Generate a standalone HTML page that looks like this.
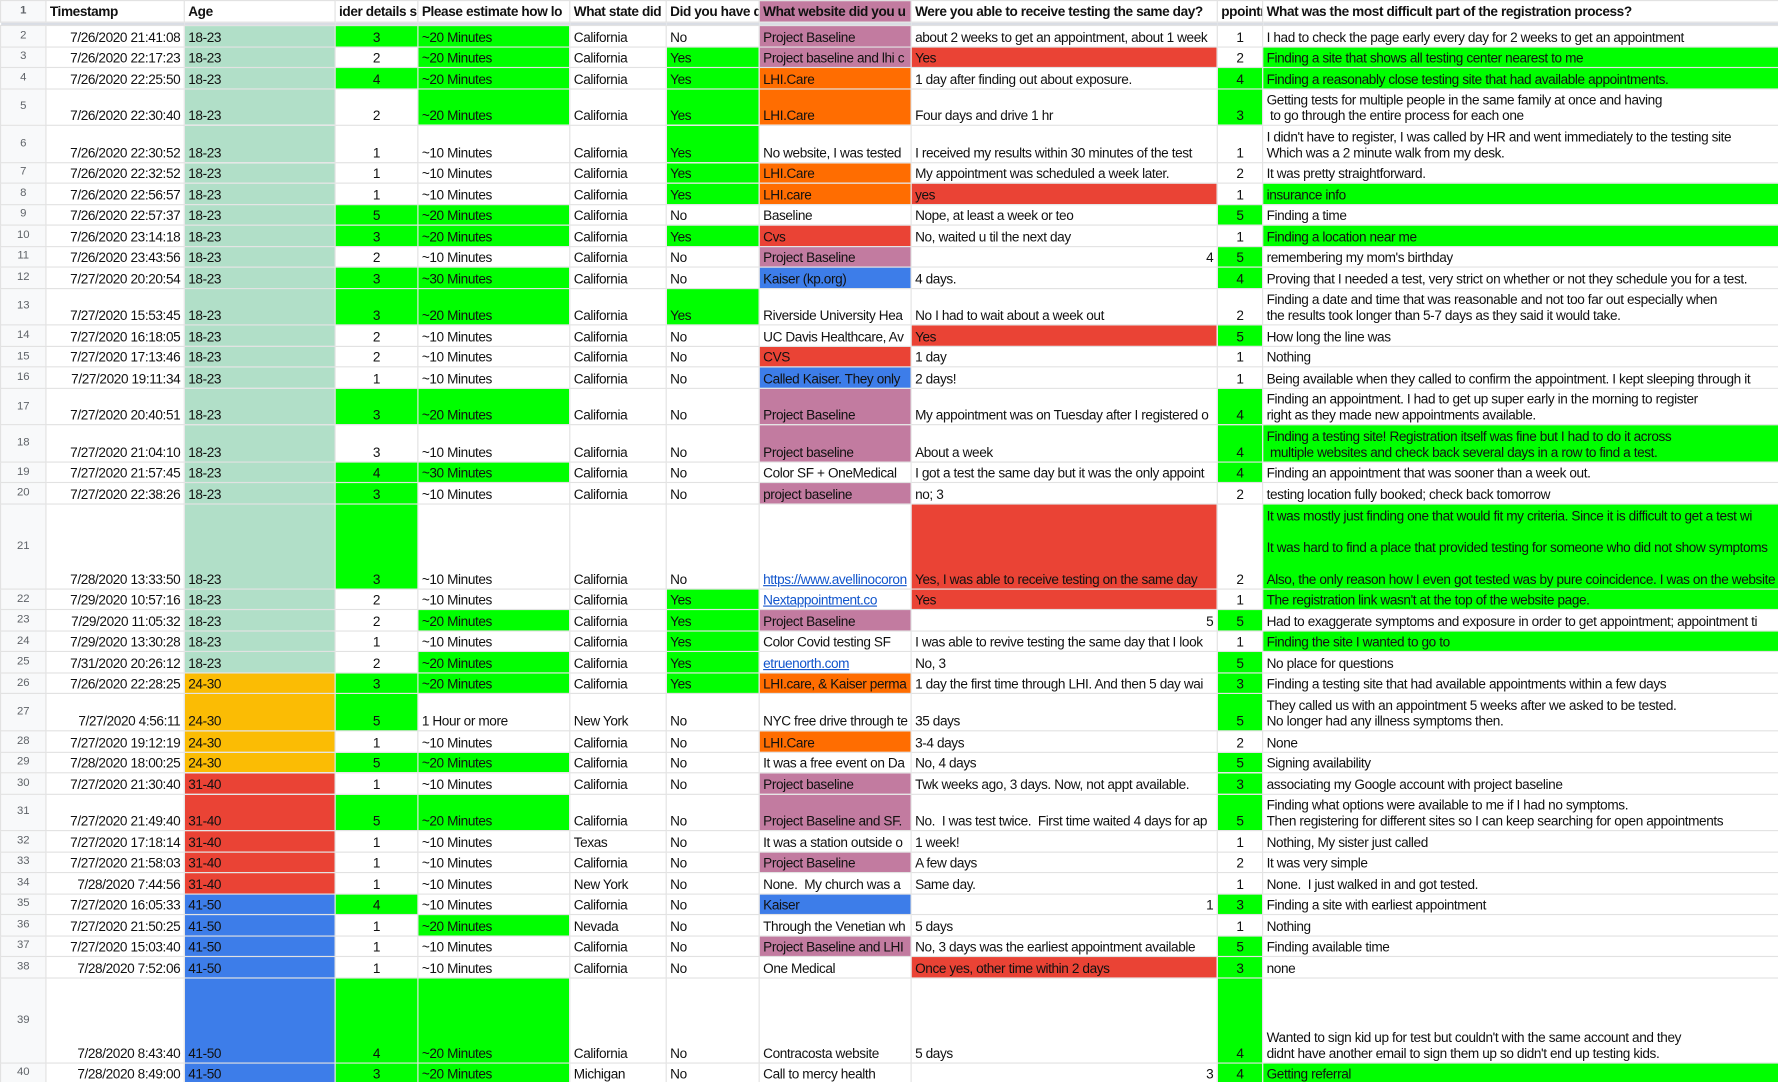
<!DOCTYPE html>
<html><head><meta charset="utf-8"><style>
html,body{margin:0;padding:0;background:#fff;width:1778px;height:1082px;overflow:hidden}
#w{transform:scale(1.13393);transform-origin:0 0;width:1568px}
table{border-collapse:collapse;table-layout:fixed;width:1568px;font-family:"Liberation Sans",Arial,sans-serif;font-size:12px;letter-spacing:-0.35px;color:#111}
td{border:1px solid #e2e2e2;padding:0 3px 1px 3px;vertical-align:bottom;white-space:pre;overflow:hidden;line-height:14px;height:18.5px;box-sizing:border-box}
tr.T td{height:32.6px}
tr.H td{height:75px}
tr.hd td{font-weight:bold;height:19px;vertical-align:middle;padding-bottom:0}
tr.sp td{height:3px;padding:0;background:#d9dde4;border:none}
td.n{background:#f8f9fa;color:#5f6368;font-size:10px;text-align:center;vertical-align:middle;letter-spacing:0;padding:0}
.ts{text-align:right}
.c{text-align:center}
.rt{text-align:right}
.g{background:#00ff00}.t{background:#b1dfc8}.p{background:#c27ba0}.o{background:#ff6d01}.r{background:#ea4335}.b{background:#3d7de9}.y{background:#fbbc04}
a{color:#1155cc;text-decoration:underline}
</style></head><body><div id="w">
<table>
<colgroup><col style="width:40px"><col style="width:122px"><col style="width:133px"><col style="width:73px"><col style="width:134px"><col style="width:85px"><col style="width:82px"><col style="width:134px"><col style="width:270px"><col style="width:40px"><col style="width:455px"></colgroup>
<tr class="hd"><td class="n">1</td><td>Timestamp</td><td>Age</td><td>ider details su</td><td>Please estimate how lo</td><td>What state did</td><td>Did you have d</td><td class="p">What website did you u</td><td>Were you able to receive testing the same day?</td><td>ppointm</td><td>What was the most difficult part of the registration process?</td></tr>
<tr class="sp"><td></td><td></td><td></td><td></td><td></td><td></td><td></td><td></td><td></td><td></td><td></td></tr>
<tr><td class="n">2</td><td class="ts">7/26/2020 21:41:08</td><td class="t">18-23</td><td class="c g">3</td><td class="g">~20 Minutes</td><td>California</td><td>No</td><td class="p">Project Baseline</td><td>about 2 weeks to get an appointment, about 1 week</td><td class="c">1</td><td>I had to check the page early every day for 2 weeks to get an appointment</td></tr>
<tr><td class="n">3</td><td class="ts">7/26/2020 22:17:23</td><td class="t">18-23</td><td class="c">2</td><td class="g">~20 Minutes</td><td>California</td><td class="g">Yes</td><td class="p">Project baseline and lhi c</td><td class="r">Yes</td><td class="c">2</td><td class="g">Finding a site that shows all testing center nearest to me</td></tr>
<tr><td class="n">4</td><td class="ts">7/26/2020 22:25:50</td><td class="t">18-23</td><td class="c g">4</td><td class="g">~20 Minutes</td><td>California</td><td class="g">Yes</td><td class="o">LHI.Care</td><td>1 day after finding out about exposure.</td><td class="c g">4</td><td class="g">Finding a reasonably close testing site that had available appointments.</td></tr>
<tr class="T"><td class="n">5</td><td class="ts">7/26/2020 22:30:40</td><td class="t">18-23</td><td class="c">2</td><td class="g">~20 Minutes</td><td>California</td><td class="g">Yes</td><td class="o">LHI.Care</td><td>Four days and drive 1 hr</td><td class="c g">3</td><td>Getting tests for multiple people in the same family at once and having
 to go through the entire process for each one</td></tr>
<tr class="T"><td class="n">6</td><td class="ts">7/26/2020 22:30:52</td><td class="t">18-23</td><td class="c">1</td><td>~10 Minutes</td><td>California</td><td class="g">Yes</td><td>No website, I was tested</td><td>I received my results within 30 minutes of the test</td><td class="c">1</td><td>I didn't have to register, I was called by HR and went immediately to the testing site
Which was a 2 minute walk from my desk.</td></tr>
<tr><td class="n">7</td><td class="ts">7/26/2020 22:32:52</td><td class="t">18-23</td><td class="c">1</td><td>~10 Minutes</td><td>California</td><td class="g">Yes</td><td class="o">LHI.Care</td><td>My appointment was scheduled a week later.</td><td class="c">2</td><td>It was pretty straightforward.</td></tr>
<tr><td class="n">8</td><td class="ts">7/26/2020 22:56:57</td><td class="t">18-23</td><td class="c">1</td><td>~10 Minutes</td><td>California</td><td class="g">Yes</td><td class="o">LHI.care</td><td class="r">yes</td><td class="c">1</td><td class="g">insurance info</td></tr>
<tr><td class="n">9</td><td class="ts">7/26/2020 22:57:37</td><td class="t">18-23</td><td class="c g">5</td><td class="g">~20 Minutes</td><td>California</td><td>No</td><td>Baseline</td><td>Nope, at least a week or teo</td><td class="c g">5</td><td>Finding a time</td></tr>
<tr><td class="n">10</td><td class="ts">7/26/2020 23:14:18</td><td class="t">18-23</td><td class="c g">3</td><td class="g">~20 Minutes</td><td>California</td><td class="g">Yes</td><td class="r">Cvs</td><td>No, waited u til the next day</td><td class="c">1</td><td class="g">Finding a location near me</td></tr>
<tr><td class="n">11</td><td class="ts">7/26/2020 23:43:56</td><td class="t">18-23</td><td class="c">2</td><td>~10 Minutes</td><td>California</td><td>No</td><td class="p">Project Baseline</td><td class="rt">4</td><td class="c g">5</td><td>remembering my mom's birthday</td></tr>
<tr><td class="n">12</td><td class="ts">7/27/2020 20:20:54</td><td class="t">18-23</td><td class="c g">3</td><td class="g">~30 Minutes</td><td>California</td><td>No</td><td class="b">Kaiser (kp.org)</td><td>4 days.</td><td class="c g">4</td><td>Proving that I needed a test, very strict on whether or not they schedule you for a test.</td></tr>
<tr class="T"><td class="n">13</td><td class="ts">7/27/2020 15:53:45</td><td class="t">18-23</td><td class="c g">3</td><td class="g">~20 Minutes</td><td>California</td><td class="g">Yes</td><td>Riverside University Hea</td><td>No I had to wait about a week out</td><td class="c">2</td><td>Finding a date and time that was reasonable and not too far out especially when
the results took longer than 5-7 days as they said it would take.</td></tr>
<tr><td class="n">14</td><td class="ts">7/27/2020 16:18:05</td><td class="t">18-23</td><td class="c">2</td><td>~10 Minutes</td><td>California</td><td>No</td><td>UC Davis Healthcare, Av</td><td class="r">Yes</td><td class="c g">5</td><td>How long the line was</td></tr>
<tr><td class="n">15</td><td class="ts">7/27/2020 17:13:46</td><td class="t">18-23</td><td class="c">2</td><td>~10 Minutes</td><td>California</td><td>No</td><td class="r">CVS</td><td>1 day</td><td class="c">1</td><td>Nothing</td></tr>
<tr><td class="n">16</td><td class="ts">7/27/2020 19:11:34</td><td class="t">18-23</td><td class="c">1</td><td>~10 Minutes</td><td>California</td><td>No</td><td class="b">Called Kaiser. They only</td><td>2 days!</td><td class="c">1</td><td>Being available when they called to confirm the appointment. I kept sleeping through it</td></tr>
<tr class="T"><td class="n">17</td><td class="ts">7/27/2020 20:40:51</td><td class="t">18-23</td><td class="c g">3</td><td class="g">~20 Minutes</td><td>California</td><td>No</td><td class="p">Project Baseline</td><td>My appointment was on Tuesday after I registered o</td><td class="c g">4</td><td>Finding an appointment. I had to get up super early in the morning to register
right as they made new appointments available.</td></tr>
<tr class="T"><td class="n">18</td><td class="ts">7/27/2020 21:04:10</td><td class="t">18-23</td><td class="c">3</td><td>~10 Minutes</td><td>California</td><td>No</td><td class="p">Project baseline</td><td>About a week</td><td class="c g">4</td><td class="g">Finding a testing site! Registration itself was fine but I had to do it across
 multiple websites and check back several days in a row to find a test.</td></tr>
<tr><td class="n">19</td><td class="ts">7/27/2020 21:57:45</td><td class="t">18-23</td><td class="c g">4</td><td class="g">~30 Minutes</td><td>California</td><td>No</td><td>Color SF + OneMedical</td><td>I got a test the same day but it was the only appoint</td><td class="c g">4</td><td>Finding an appointment that was sooner than a week out.</td></tr>
<tr><td class="n">20</td><td class="ts">7/27/2020 22:38:26</td><td class="t">18-23</td><td class="c g">3</td><td>~10 Minutes</td><td>California</td><td>No</td><td class="p">project baseline</td><td>no; 3</td><td class="c">2</td><td>testing location fully booked; check back tomorrow</td></tr>
<tr class="H"><td class="n">21</td><td class="ts">7/28/2020 13:33:50</td><td class="t">18-23</td><td class="c g">3</td><td>~10 Minutes</td><td>California</td><td>No</td><td><a>https://www.avellinocoron</a></td><td class="r">Yes, I was able to receive testing on the same day</td><td class="c">2</td><td class="g">It was mostly just finding one that would fit my criteria. Since it is difficult to get a test wi

It was hard to find a place that provided testing for someone who did not show symptoms

Also, the only reason how I even got tested was by pure coincidence. I was on the website</td></tr>
<tr><td class="n">22</td><td class="ts">7/29/2020 10:57:16</td><td class="t">18-23</td><td class="c">2</td><td>~10 Minutes</td><td>California</td><td class="g">Yes</td><td><a>Nextappointment.co</a></td><td class="r">Yes</td><td class="c">1</td><td class="g">The registration link wasn't at the top of the website page.</td></tr>
<tr><td class="n">23</td><td class="ts">7/29/2020 11:05:32</td><td class="t">18-23</td><td class="c">2</td><td class="g">~20 Minutes</td><td>California</td><td class="g">Yes</td><td class="p">Project Baseline</td><td class="rt">5</td><td class="c g">5</td><td>Had to exaggerate symptoms and exposure in order to get appointment; appointment ti</td></tr>
<tr><td class="n">24</td><td class="ts">7/29/2020 13:30:28</td><td class="t">18-23</td><td class="c">1</td><td>~10 Minutes</td><td>California</td><td class="g">Yes</td><td>Color Covid testing SF</td><td>I was able to revive testing the same day that I look</td><td class="c">1</td><td class="g">Finding the site I wanted to go to</td></tr>
<tr><td class="n">25</td><td class="ts">7/31/2020 20:26:12</td><td class="t">18-23</td><td class="c">2</td><td class="g">~20 Minutes</td><td>California</td><td class="g">Yes</td><td><a>etruenorth.com</a></td><td>No, 3</td><td class="c g">5</td><td>No place for questions</td></tr>
<tr><td class="n">26</td><td class="ts">7/26/2020 22:28:25</td><td class="y">24-30</td><td class="c g">3</td><td class="g">~20 Minutes</td><td>California</td><td class="g">Yes</td><td class="o">LHI.care, &amp; Kaiser perma</td><td>1 day the first time through LHI. And then 5 day wai</td><td class="c g">3</td><td>Finding a testing site that had available appointments within a few days</td></tr>
<tr class="T"><td class="n">27</td><td class="ts">7/27/2020 4:56:11</td><td class="y">24-30</td><td class="c g">5</td><td>1 Hour or more</td><td>New York</td><td>No</td><td>NYC free drive through te</td><td>35 days</td><td class="c g">5</td><td>They called us with an appointment 5 weeks after we asked to be tested.
No longer had any illness symptoms then.</td></tr>
<tr><td class="n">28</td><td class="ts">7/27/2020 19:12:19</td><td class="y">24-30</td><td class="c">1</td><td>~10 Minutes</td><td>California</td><td>No</td><td class="o">LHI.Care</td><td>3-4 days</td><td class="c">2</td><td>None</td></tr>
<tr><td class="n">29</td><td class="ts">7/28/2020 18:00:25</td><td class="y">24-30</td><td class="c g">5</td><td class="g">~20 Minutes</td><td>California</td><td>No</td><td>It was a free event on Da</td><td>No, 4 days</td><td class="c g">5</td><td>Signing availability</td></tr>
<tr><td class="n">30</td><td class="ts">7/27/2020 21:30:40</td><td class="r">31-40</td><td class="c">1</td><td>~10 Minutes</td><td>California</td><td>No</td><td class="p">Project baseline</td><td>Twk weeks ago, 3 days. Now, not appt available.</td><td class="c g">3</td><td>associating my Google account with project baseline</td></tr>
<tr class="T"><td class="n">31</td><td class="ts">7/27/2020 21:49:40</td><td class="r">31-40</td><td class="c g">5</td><td class="g">~20 Minutes</td><td>California</td><td>No</td><td class="p">Project Baseline and SF.</td><td>No.  I was test twice.  First time waited 4 days for ap</td><td class="c g">5</td><td>Finding what options were available to me if I had no symptoms.
Then registering for different sites so I can keep searching for open appointments</td></tr>
<tr><td class="n">32</td><td class="ts">7/27/2020 17:18:14</td><td class="r">31-40</td><td class="c">1</td><td>~10 Minutes</td><td>Texas</td><td>No</td><td>It was a station outside o</td><td>1 week!</td><td class="c">1</td><td>Nothing, My sister just called</td></tr>
<tr><td class="n">33</td><td class="ts">7/27/2020 21:58:03</td><td class="r">31-40</td><td class="c">1</td><td>~10 Minutes</td><td>California</td><td>No</td><td class="p">Project Baseline</td><td>A few days</td><td class="c">2</td><td>It was very simple</td></tr>
<tr><td class="n">34</td><td class="ts">7/28/2020 7:44:56</td><td class="r">31-40</td><td class="c">1</td><td>~10 Minutes</td><td>New York</td><td>No</td><td>None.  My church was a</td><td>Same day.</td><td class="c">1</td><td>None.  I just walked in and got tested.</td></tr>
<tr><td class="n">35</td><td class="ts">7/27/2020 16:05:33</td><td class="b">41-50</td><td class="c g">4</td><td>~10 Minutes</td><td>California</td><td>No</td><td class="b">Kaiser</td><td class="rt">1</td><td class="c g">3</td><td>Finding a site with earliest appointment</td></tr>
<tr><td class="n">36</td><td class="ts">7/27/2020 21:50:25</td><td class="b">41-50</td><td class="c">1</td><td class="g">~20 Minutes</td><td>Nevada</td><td>No</td><td>Through the Venetian wh</td><td>5 days</td><td class="c">1</td><td>Nothing</td></tr>
<tr><td class="n">37</td><td class="ts">7/27/2020 15:03:40</td><td class="b">41-50</td><td class="c">1</td><td>~10 Minutes</td><td>California</td><td>No</td><td class="p">Project Baseline and LHI</td><td>No, 3 days was the earliest appointment available</td><td class="c g">5</td><td>Finding available time</td></tr>
<tr><td class="n">38</td><td class="ts">7/28/2020 7:52:06</td><td class="b">41-50</td><td class="c">1</td><td>~10 Minutes</td><td>California</td><td>No</td><td>One Medical</td><td class="r">Once yes, other time within 2 days</td><td class="c g">3</td><td>none</td></tr>
<tr class="H"><td class="n">39</td><td class="ts">7/28/2020 8:43:40</td><td class="b">41-50</td><td class="c g">4</td><td class="g">~20 Minutes</td><td>California</td><td>No</td><td>Contracosta website</td><td>5 days</td><td class="c g">4</td><td>Wanted to sign kid up for test but couldn't with the same account and they
didnt have another email to sign them up so didn't end up testing kids.</td></tr>
<tr><td class="n">40</td><td class="ts">7/28/2020 8:49:00</td><td class="b">41-50</td><td class="c g">3</td><td class="g">~20 Minutes</td><td>Michigan</td><td>No</td><td>Call to mercy health</td><td class="rt">3</td><td class="c g">4</td><td class="g">Getting referral</td></tr>
</table>
</div></body></html>
